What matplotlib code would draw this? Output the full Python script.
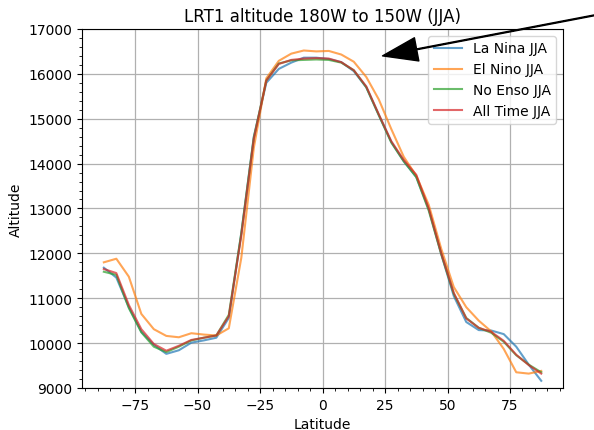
import numpy as np
import matplotlib
matplotlib.use('Agg')
import matplotlib.pyplot as plt

# latitude band centres (5 deg bins)
lats = np.arange(-87.5, 90, 5)

la_nina = [11680, 11460, 10800, 10250, 9960, 9760, 9840, 10010, 10060, 10120,
           10560, 12450, 14600, 15800, 16110, 16250, 16360, 16360, 16330, 16260,
           16060, 15700, 15080, 14480, 14050, 13700, 12980, 11980, 11050, 10470,
           10290, 10280, 10200, 9920, 9520, 9160]
el_nino = [11800, 11880, 11480, 10650, 10310, 10160, 10130, 10220, 10190, 10170,
           10330, 11900, 14350, 15900, 16290, 16450, 16520, 16500, 16510, 16430,
           16270, 15930, 15430, 14770, 14150, 13730, 13080, 12100, 11250, 10800,
           10500, 10260, 9870, 9350, 9320, 9380]
no_enso = [11590, 11520, 10780, 10240, 9920, 9800, 9920, 10060, 10120, 10170,
           10630, 12450, 14580, 15850, 16230, 16300, 16310, 16320, 16310, 16250,
           16080, 15700, 15080, 14470, 14050, 13700, 12950, 11980, 11100, 10560,
           10340, 10230, 10030, 9730, 9520, 9350]
all_time = [11650, 11560, 10850, 10310, 9980, 9830, 9940, 10070, 10120, 10170,
            10600, 12400, 14550, 15850, 16220, 16310, 16340, 16350, 16340, 16260,
            16080, 15720, 15100, 14500, 14080, 13750, 13000, 12000, 11120, 10550,
            10340, 10250, 10050, 9740, 9510, 9320]

series = [(la_nina, 'La Nina JJA'), (el_nino, 'El Nino JJA'),
          (no_enso, 'No Enso JJA'), (all_time, 'All Time JJA')]

fig = plt.figure(figsize=(5.94, 4.31), dpi=100)
ax = fig.add_axes([0.138, 0.0975, 0.810, 0.833])

for vals, name in series:
    ax.plot(lats, vals, label=name, alpha=0.7, linewidth=1.5)

ax.set_ylim(9000, 17000)
ax.minorticks_on()
ax.grid(True, which='major', color='#b0b0b0', linewidth=0.9)
ax.set_title('LRT1 altitude 180W to 150W (JJA)', fontsize=12)
ax.set_xlabel('Latitude')
ax.set_ylabel('Altitude')
ax.legend(loc='upper right')

# arrow pointing at the tropopause peak, drawn over the legend
ax.annotate('', xy=(24, 16400), xytext=(1.1, 1.047), textcoords='axes fraction',
            annotation_clip=False, zorder=10,
            arrowprops=dict(facecolor='black', width=0.6, headwidth=17, headlength=25))

fig.savefig('out.png', dpi=100)
